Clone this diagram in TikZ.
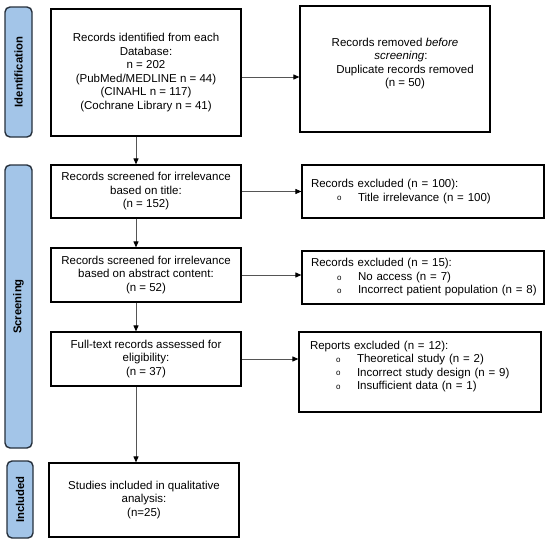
\documentclass[tikz,border=0pt]{standalone}
\usepackage{fontspec}
\setmainfont{Liberation Sans}
\usetikzlibrary{arrows.meta,calc}
\definecolor{barfill}{HTML}{A3C5E8}
\definecolor{barline}{HTML}{26303C}
\definecolor{arrgray}{HTML}{555555}
\newcommand{\bul}[1]{\hspace*{26pt}\makebox[21pt][l]{\raisebox{0.3pt}{\fontsize{8}{8}\selectfont o}}\mbox{#1}}
\begin{document}
\begin{tikzpicture}[x=1pt,y=-1pt,
  box/.style={draw=black,line width=1.2pt,minimum width=190pt,align=center,inner sep=0pt,
    font=\fontsize{11.5}{13.5}\selectfont},
  exbox/.style={draw=black,line width=1.2pt,minimum width=242pt,inner xsep=9pt,inner ysep=0pt,
    text width=224pt,align=left,font=\fontsize{11.5}{13.5}\selectfont},
  bar/.style={draw=barline,fill=barfill,rounded corners=5pt,line width=1.4pt,inner sep=0pt},
  lab/.style={rotate=90,font=\bfseries\fontsize{11.3}{13}\selectfont},
  arr/.style={draw=arrgray,line width=0.9pt,-{Triangle[length=6pt,width=5pt,color=black]}}]
\useasboundingbox (0,0) rectangle (550,544);
% side bars
\node[bar,minimum width=27pt,minimum height=130pt] (barI) at (18.5,72) {};
\node[lab] (labI) at (barI.center) {Identification};
\node[bar,minimum width=27pt,minimum height=283pt] (barS) at (18.5,306.5) {};
\node[lab] (labS) at (barS.center) {Screening};
\node[bar,minimum width=26pt,minimum height=77pt] (barN) at (20,499.5) {};
\node[lab] (labN) at (barN.center) {Included};
% main boxes
\node[box,minimum height=127pt] (b1) at (146,72.5) {Records identified from each\\Database:\\n = 202\\(PubMed/MEDLINE n = 44)\\(CINAHL n = 117)\\(Cochrane Library n = 41)};
\node[box,minimum height=126pt] (rem) at (395,69) {Records removed \textit{before}\\\hspace*{12pt}\textit{screening}:\\\hspace*{20pt}Duplicate records removed\\\hspace*{20pt}(n = 50)\\~};
\node[box,minimum height=53pt] (b2) at (146,191.5) {Records screened for irrelevance\\based on title:\\(n = 152)};
\node[box,minimum height=54pt] (b3) at (146,275) {Records screened for irrelevance\\based on abstract content:\\(n = 52)};
\node[box,minimum height=54pt] (b4) at (146,359) {Full-text records assessed for\\eligibility:\\(n = 37)};
\node[box,minimum height=74pt] (b5) at (144,500) {Studies included in qualitative\\analysis:\\(n=25)};
% exclusion boxes
\node[exbox,minimum height=53pt] (e1) at (423,191.5) {Records excluded (n = 100):\\\bul{Title irrelevance (n = 100)}};
\node[exbox,minimum height=53pt] (e2) at (423,277.5) {Records excluded (n = 15):\\\bul{No access (n = 7)}\\\bul{Incorrect patient population (n = 8)}};
\node[exbox,minimum height=80pt,inner xsep=11pt,text width=220pt] (e3) at (420,372) {Reports excluded (n = 12):\\\bul{Theoretical study (n = 2)}\\\bul{Incorrect study design (n = 9)}\\\bul{Insufficient data (n = 1)}\\~};
% arrows
\coordinate (ax) at (136,0);
\draw[arr] (b1.south -| ax) -- (b2.north -| ax);
\draw[arr] (b2.south -| ax) -- (b3.north -| ax);
\draw[arr] (b3.south -| ax) -- (b4.north -| ax);
\draw[arr] (b4.south -| ax) -- (b5.north -| ax);
\coordinate (s1) at ($(b1.east)+(0,4.5)$);
\draw[arr] (s1) -- (s1 -| rem.west);
\draw[arr] (b2.east) -- (b2.east -| e1.west);
\draw[arr] (b3.east) -- (b3.east -| e2.west);
\draw[arr] (b4.east) -- (b4.east -| e3.west);
\end{tikzpicture}
\end{document}
